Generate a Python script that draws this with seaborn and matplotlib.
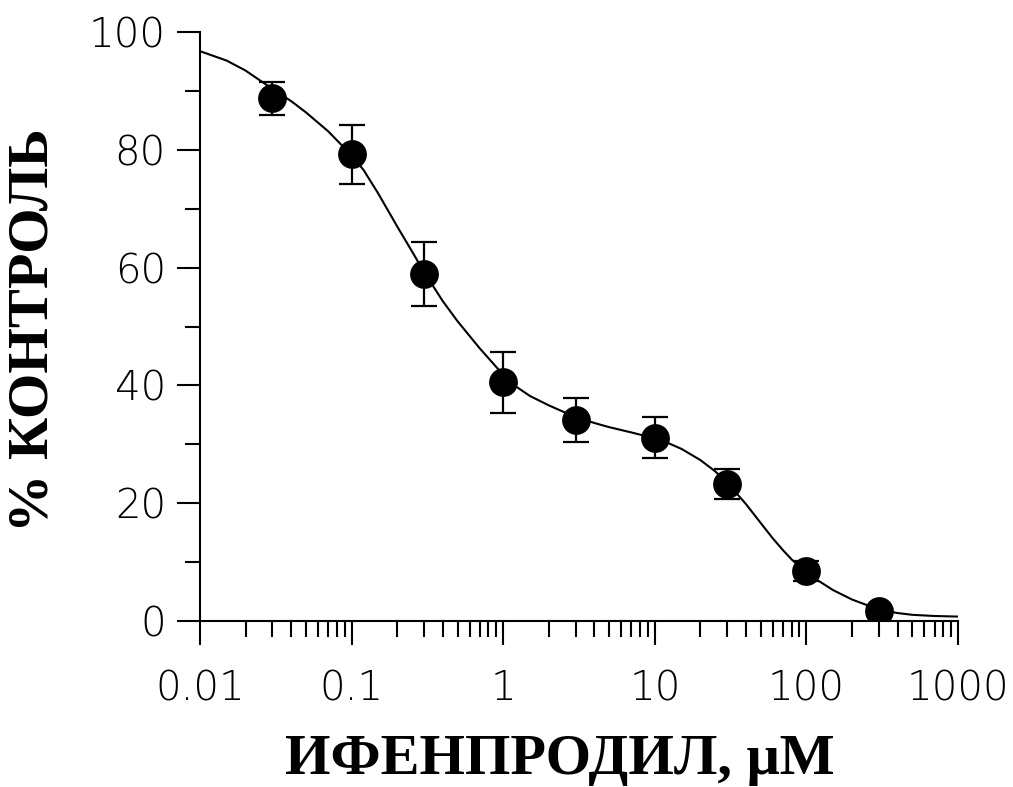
import numpy as np
import pandas as pd
import matplotlib
matplotlib.use("Agg")
import matplotlib.pyplot as plt
import matplotlib.ticker as mticker
import seaborn as sns

# measured points (mean +- error), ifenprodil concentration in uM
conc = [0.03, 0.1, 0.3, 1, 3, 10, 30, 100, 300]
pct_control = [88.8, 79.3, 58.9, 40.5, 34.1, 31.1, 23.2, 8.4, 1.6]
pct_err = [2.8, 5.0, 5.4, 5.2, 3.7, 3.5, 2.5, 1.7, 0.8]

# fitted curve
curve_conc = [0.01, 0.015, 0.02, 0.03, 0.04, 0.05, 0.07, 0.1, 0.12, 0.15, 0.2,
              0.25, 0.3, 0.4, 0.5, 0.7, 1, 1.2, 1.5, 2, 2.5, 3, 4, 5, 7, 10,
              12, 15, 20, 25, 30, 40, 50, 60, 70, 80, 100, 120, 150, 200, 300,
              400, 500, 700, 1000]
curve_pct = [96.8, 95.2, 93.5, 90.4, 88.3, 86.4, 83.2, 79.1, 76.6, 72.6, 67.0,
             62.8, 59.3, 54.3, 50.9, 46.3, 41.8, 39.9, 38.2, 36.6, 35.5, 34.6, 33.6, 32.9, 32.0, 31.0,
             30.3, 29.2, 27.3, 25.4, 23.5, 19.8, 16.6, 14.0, 12.0, 10.4, 8.2, 6.8, 5.2, 3.6, 1.9,
             1.3, 1.0, 0.8, 0.7]

x_ticks = [0.01, 0.1, 1, 10, 100, 1000]
x_ticklabels = ['0.01', '0.1', '1', '10', '100', '1000']
y_ticks = [0, 20, 40, 60, 80, 100]

points = pd.DataFrame({'conc': conc, 'pct': pct_control, 'err': pct_err})
curve = pd.DataFrame({'conc': curve_conc, 'pct': curve_pct})

sns.set_theme(style='ticks')
plt.rcParams['font.family'] = ['DejaVu Sans']

fig = plt.figure(figsize=(10.13, 7.87), dpi=100)
ax = fig.add_axes([0.1974, 0.2113, 0.7483, 0.7476])

sns.lineplot(data=curve, x='conc', y='pct', color='black', linewidth=1.5, ax=ax)
ax.errorbar(points['conc'], points['pct'], yerr=points['err'], fmt='none',
            ecolor='black', elinewidth=1.6, capsize=9.7, capthick=1.6, zorder=3)
sns.scatterplot(data=points, x='conc', y='pct', color='black', s=430,
                edgecolor='black', linewidth=0, ax=ax, zorder=4)

ax.set_xscale('log')
ax.set_xlim(0.01, 1000)
ax.set_ylim(0, 100)
ax.set_xticks(x_ticks)
ax.set_xticklabels(x_ticklabels)
ax.xaxis.set_minor_locator(mticker.LogLocator(base=10, subs=np.arange(2, 10)))
ax.xaxis.set_minor_formatter(mticker.NullFormatter())
ax.set_yticks(y_ticks)
ax.yaxis.set_minor_locator(mticker.MultipleLocator(10))

sns.despine(ax=ax)
for side in ['left', 'bottom']:
    ax.spines[side].set_linewidth(1.5)
    ax.spines[side].set_color('black')

ax.tick_params(axis='x', which='major', length=17, width=1.5, pad=18,
               labelsize=29, colors='black')
ax.tick_params(axis='x', which='minor', length=11.5, width=1.5, colors='black')
ax.tick_params(axis='y', which='major', length=16.5, width=1.5, pad=8,
               labelsize=29, colors='black')
ax.tick_params(axis='y', which='minor', length=10.8, width=1.5, colors='black')
for lbl in ax.get_xticklabels() + ax.get_yticklabels():
    lbl.set_fontweight('light')

ax.set_xlabel('ИФЕНПРОДИЛ, μM', fontsize=42, fontweight='bold',
              family=['Liberation Serif', 'DejaVu Serif'], color='black')
ax.set_ylabel('% КОНТРОЛЬ', fontsize=42, fontweight='bold',
              family=['Liberation Serif', 'DejaVu Serif'], color='black')
ax.xaxis.set_label_coords(0.475, -0.237)
ax.xaxis.label.set_va('center')
ax.yaxis.set_label_coords(-0.220, 0.494)
ax.yaxis.label.set_va('center')

fig.savefig('out.png', dpi=100, facecolor='white')
